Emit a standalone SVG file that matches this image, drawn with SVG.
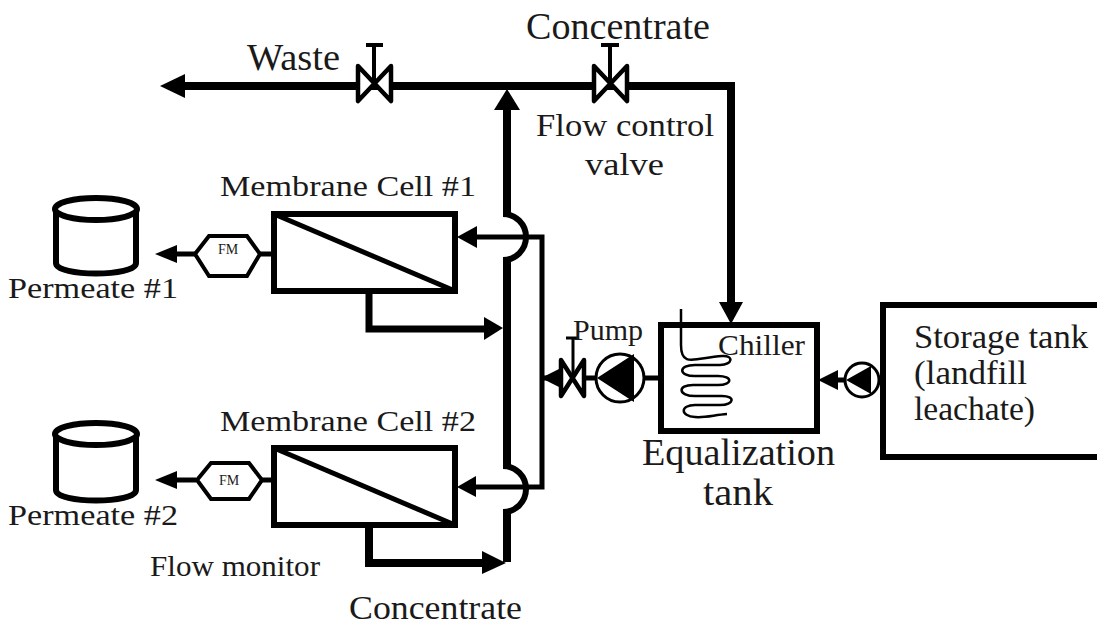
<svg xmlns="http://www.w3.org/2000/svg" width="1097" height="624" viewBox="0 0 1097 624">
<style>
text{font-family:"Liberation Serif","Times New Roman",serif;fill:#1a1a1a}
.b{fill:#fff;stroke:#000}
.l{fill:none;stroke:#000}
.a{fill:#000;stroke:none}
.v{fill:#fff;stroke:#000;stroke-width:4.5;stroke-linejoin:round}
</style>
<rect width="1097" height="624" fill="#fff"/>
<g id="connectors">
<path class="l" stroke-width="8" d="M185 86H731V302"/>
<path class="a" d="M160 86L185 74V98Z"/>
<path class="a" d="M719 302H743L731 324Z"/>
<path class="l" stroke-width="8" d="M507 106V217M507 262V466M507 514V562"/>
<path class="l" stroke-width="6" d="M503 214A23 23 0 0 1 503 260M503 466A23 23 0 0 1 503 512"/>
<path class="a" d="M507 89L520 110H494Z"/>
<path class="l" stroke-width="5" d="M476 237H542V487H476"/>
<path class="a" d="M457 237L477 226V248Z"/>
<path class="a" d="M457 487L476 476V497Z"/>
<path class="l" stroke-width="7" d="M369 293V329H486"/>
<path class="a" d="M503 328L484 317V340Z"/>
<path class="l" stroke-width="8" d="M369 528V563H486"/>
<path class="a" d="M506 563L482 551V574Z"/>
<path class="l" stroke-width="5" d="M542 378H560M584 378H660"/>
<path class="a" d="M541 378L563 367V389Z"/>
<path class="l" stroke-width="5" d="M838 380H882"/>
<path class="a" d="M818 380L838 370V390Z"/>
<path class="l" stroke-width="5" d="M177 254H196M260 254H274M177 480H196M262 480H274"/>
<path class="a" d="M155 254L177 245V263Z"/>
<path class="a" d="M155 480L177 471V489Z"/>
</g>
<g id="valve-waste"><path class="v" d="M358 66L391 101V66L358 101Z"/><path class="l" stroke-width="4" d="M374 84V45M366 45H383"/></g>
<g id="valve-concentrate"><path class="v" d="M594 66L627 101V66L594 101Z"/><path class="l" stroke-width="4" d="M610 84V45M601 45H619"/></g>
<g id="valve-pump"><path class="v" d="M561 360L584 396V360L561 396Z"/><path class="l" stroke-width="3" d="M573 378V338M566 338H579"/></g>
<g id="pump-main"><circle class="b" stroke-width="3" cx="620" cy="378" r="24"/><path class="a" d="M597 378L634 354V402Z"/></g>
<g id="pump-storage"><circle class="b" stroke-width="3" cx="862" cy="380" r="17"/><path class="a" d="M846 380L871 366V394Z"/></g>
<g id="cell-1"><rect class="b" stroke-width="6" x="274" y="214" width="181" height="77"/><path class="l" stroke-width="5" d="M274 214L455 291"/><text x="220" y="196" font-size="29" textLength="256" lengthAdjust="spacingAndGlyphs">Membrane Cell #1</text></g>
<g id="cell-2"><rect class="b" stroke-width="6" x="274" y="448" width="181" height="77"/><path class="l" stroke-width="5" d="M274 448L455 525"/><text x="220" y="431" font-size="29" textLength="256" lengthAdjust="spacingAndGlyphs">Membrane Cell #2</text></g>
<g id="fm-1"><path class="b" stroke-width="4" d="M195 254L209 236H247L260 254L247 276H209Z"/><text x="228" y="254" font-size="14" text-anchor="middle">FM</text></g>
<g id="fm-2"><path class="b" stroke-width="4" d="M197 480L211 463H249L262 480L249 499H211Z"/><text x="229" y="485" font-size="14" text-anchor="middle">FM</text></g>
<g id="tank-1"><path class="b" stroke-width="6" d="M56 211V263C56 277 136 277 136 263V211"/><ellipse class="b" stroke-width="6" cx="96" cy="209" rx="41" ry="11"/><text x="8" y="298" font-size="29" textLength="170" lengthAdjust="spacingAndGlyphs">Permeate #1</text></g>
<g id="tank-2"><path class="b" stroke-width="6" d="M56 436V490C56 504 136 504 136 490V436"/><ellipse class="b" stroke-width="6" cx="96" cy="434" rx="41" ry="11"/><text x="8" y="525" font-size="29" textLength="170" lengthAdjust="spacingAndGlyphs">Permeate #2</text></g>
<g id="equalization-tank"><rect class="b" stroke-width="6" x="661" y="325" width="156" height="106"/>
<path class="l" stroke-width="2.5" stroke="#222" d="M681 309V345C681 368 695 358 722 356C734 355 733 365 720 365H695C678 365 678 376 695 376H718C733 376 733 385 718 385H693C677 385 678 396 695 396H722C736 396 734 405 720 405H695C680 405 680 416 695 417C705 418 714 415 727 414"/>
<text x="718" y="355" font-size="30" textLength="87" lengthAdjust="spacingAndGlyphs">Chiller</text><text x="642" y="465" font-size="38" textLength="193" lengthAdjust="spacingAndGlyphs">Equalization</text><text x="703" y="505" font-size="38" textLength="70" lengthAdjust="spacingAndGlyphs">tank</text></g>
<g id="storage-tank"><rect class="b" stroke-width="6" x="883" y="305" width="220" height="152"/><text x="914" y="348" font-size="33" textLength="174" lengthAdjust="spacingAndGlyphs">Storage tank</text><text x="914" y="384" font-size="33" textLength="113" lengthAdjust="spacingAndGlyphs">(landfill</text><text x="914" y="420" font-size="33" textLength="121" lengthAdjust="spacingAndGlyphs">leachate)</text></g>
<g id="labels"><text x="247" y="70" font-size="37" textLength="93" lengthAdjust="spacingAndGlyphs">Waste</text><text x="526" y="39" font-size="38" textLength="184" lengthAdjust="spacingAndGlyphs">Concentrate</text><text x="536" y="136" font-size="32" textLength="178" lengthAdjust="spacingAndGlyphs">Flow control</text><text x="585" y="175" font-size="32" textLength="79" lengthAdjust="spacingAndGlyphs">valve</text><text x="573" y="340" font-size="29" textLength="70" lengthAdjust="spacingAndGlyphs">Pump</text><text x="150" y="576" font-size="30" textLength="170" lengthAdjust="spacingAndGlyphs">Flow monitor</text><text x="349" y="619" font-size="33" textLength="173" lengthAdjust="spacingAndGlyphs">Concentrate</text></g>
</svg>
